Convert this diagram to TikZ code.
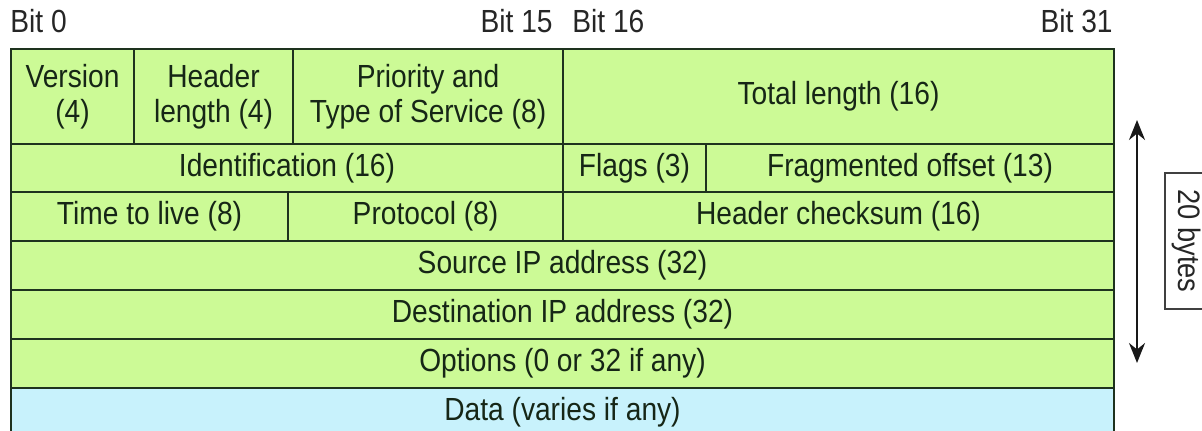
\documentclass[tikz,border=0pt]{standalone}
\usepackage{fontspec}
\setmainfont{Liberation Sans}[FakeStretch=0.88]
\usetikzlibrary{arrows.meta,positioning}
\definecolor{hdrgreen}{RGB}{204,250,150}
\definecolor{datablue}{RGB}{200,242,252}
\definecolor{cellline}{RGB}{30,50,30}
\definecolor{celltext}{RGB}{22,38,22}
\tikzset{
  field/.style={draw=cellline, fill=hdrgreen, line width=1pt, inner sep=0pt,
    anchor=north west, align=center, text=celltext,
    font=\fontsize{16}{17.5}\selectfont},
  payload/.style={field, fill=datablue},
  bitlbl/.style={inner sep=0pt, text=black!85, font=\fontsize{16}{17.5}\selectfont},
  spanln/.style={{Stealth[length=10pt,width=8pt]}-{Stealth[length=10pt,width=8pt]},
    line width=1pt, black!90},
  sizebox/.style={draw=black!75, line width=0.6pt, rotate=-90, inner sep=0pt,
    minimum width=68pt, minimum height=21pt, text=black!85,
    font=\fontsize{15.5}{17.5}\selectfont},
}
\begin{document}
\begin{tikzpicture}[x=0.5pt, y=-0.5pt]
    \useasboundingbox (0,0) rectangle (1202,431);
    % bit positions above the header
    \node[bitlbl, anchor=base west] (bit0) at (10,33) {Bit 0};
    \node[bitlbl, anchor=base east] (bit15) at (553,33) {Bit 15};
    \node[bitlbl, anchor=base west] (bit16) at (572,33) {Bit 16};
    \node[bitlbl, anchor=base east] (bit31) at (1113,33) {Bit 31};
    % first word
    \node[field, minimum width=61.5pt, minimum height=47.5pt] (ver) at (10,48) {Version\\(4)};
    \node[field, minimum width=79.5pt, minimum height=47.5pt] (hlen) at (133,48) {Header\\length (4)};
    \node[field, minimum width=135pt, minimum height=47.5pt] (tos) at (292,48) {Priority and\\Type of Service (8)};
    \node[field, minimum width=275.5pt, minimum height=47.5pt] (tlen) at (562,48) {Total length (16)};
    % second word
    \node[field, minimum width=276pt, minimum height=24pt] (ident) at (10,143) {Identification (16)};
    \node[field, minimum width=71.5pt, minimum height=24pt] (flags) at (562,143) {Flags (3)};
    \node[field, minimum width=204pt, minimum height=24pt] (fragoff) at (705,143) {Fragmented offset (13)};
    % third word
    \node[field, minimum width=138.5pt, minimum height=24.5pt] (ttl) at (10,191) {Time to live (8)};
    \node[field, minimum width=137.5pt, minimum height=24.5pt] (proto) at (287,191) {Protocol (8)};
    \node[field, minimum width=275.5pt, minimum height=24.5pt] (csum) at (562,191) {Header checksum (16)};
    % full-width words
    \node[field, minimum width=551.5pt, minimum height=24.5pt] (srcip) at (10,240) {Source IP address (32)};
    \node[field, minimum width=551.5pt, minimum height=24.5pt] (dstip) at (10,289) {Destination IP address (32)};
    \node[field, minimum width=551.5pt, minimum height=24.5pt] (opts) at (10,338) {Options (0 or 32 if any)};
    \node[payload, minimum width=551.5pt, minimum height=24.5pt] (data) at (10,387) {Data (varies if any)};
    % header size marker
    \coordinate (sztop) at (1137,120);
    \coordinate (szbot) at (1137,363);
    \draw[spanln] (sztop) -- (szbot);
    \node[sizebox] (szlbl) at (1186,241) {20 bytes};
\end{tikzpicture}
\end{document}
